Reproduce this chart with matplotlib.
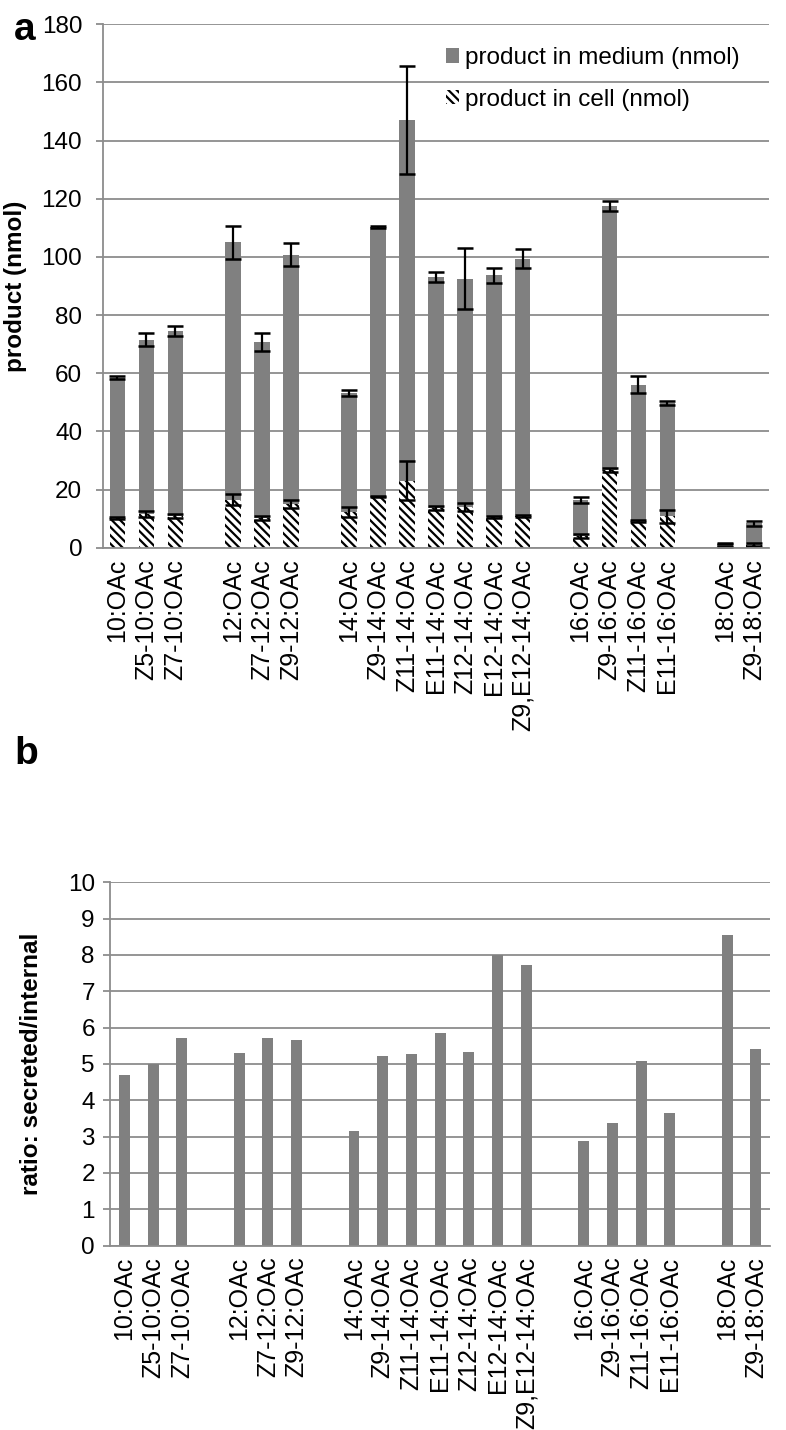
import numpy as np
import matplotlib
matplotlib.use("Agg")
import matplotlib.pyplot as plt
from matplotlib.patches import Patch

plt.rcParams['font.family'] = ['Liberation Sans', 'DejaVu Sans']
plt.rcParams['hatch.linewidth'] = 1.6

# 化合物名称（按碳链长度分组）
labels = ['10:OAc', 'Z5-10:OAc', 'Z7-10:OAc',
          '12:OAc', 'Z7-12:OAc', 'Z9-12:OAc',
          '14:OAc', 'Z9-14:OAc', 'Z11-14:OAc', 'E11-14:OAc', 'Z12-14:OAc', 'E12-14:OAc', 'Z9,E12-14:OAc',
          '16:OAc', 'Z9-16:OAc', 'Z11-16:OAc', 'E11-16:OAc',
          '18:OAc', 'Z9-18:OAc']
group_sizes = [3, 3, 7, 4, 2]

# a: 总产物（堆叠顶部）及细胞内产物
total = [58.5, 71.6, 74.5, 105.0, 70.8, 100.8, 53.3, 110.2, 147.0, 93.1, 92.5, 93.7, 99.4,
         16.3, 117.6, 56.0, 49.8, 1.4, 8.4]
total_err = [0.5, 2.1, 1.8, 5.6, 3.2, 4.0, 1.0, 0.3, 18.5, 1.7, 10.4, 2.5, 3.3,
             1.0, 1.7, 2.9, 0.7, 0.3, 0.8]
cell = [10.2, 11.6, 10.9, 16.5, 10.2, 15.0, 12.3, 17.6, 23.1, 13.6, 13.9, 10.5, 11.0,
        4.0, 26.8, 9.1, 10.8, 0.3, 1.0]
cell_err = [0.3, 1.1, 0.7, 1.8, 0.6, 1.5, 1.6, 0.3, 6.7, 0.7, 1.3, 0.4, 0.3,
            0.8, 0.6, 0.4, 2.2, 0.1, 0.5]

# b: 分泌/胞内比值
ratio = [4.7, 5.0, 5.72, 5.3, 5.72, 5.65, 3.15, 5.23, 5.27, 5.84, 5.34, 8.0, 7.72,
         2.88, 3.38, 5.08, 3.65, 8.55, 5.42]

# 每组之间空一个位置
pos = []
x = 0
for n in group_sizes:
    pos.extend(range(x, x + n))
    x += n + 1
pos = np.array(pos)
n_slots = x - 1

gray = '#808080'
grid_c = '#8c8c8c'

fig = plt.figure(figsize=(7.86, 14.30), dpi=100)
ax1 = fig.add_axes([0.131, 0.617, 0.847, 0.366])
ax2 = fig.add_axes([0.140, 0.129, 0.840, 0.254])


def style_axis(ax, ymax, step, ypad):
    ax.set_xlim(-0.5, n_slots - 0.5)
    ax.set_ylim(0, ymax)
    ax.set_yticks(np.arange(0, ymax + step / 2, step))
    ax.yaxis.grid(True, color=grid_c, linewidth=1.3)
    ax.set_axisbelow(True)
    for s in ['top', 'right']:
        ax.spines[s].set_visible(False)
    for s in ['left', 'bottom']:
        ax.spines[s].set_color(grid_c)
        ax.spines[s].set_linewidth(1.3)
    ax.tick_params(axis='y', length=5, color=grid_c, width=1.3, labelsize=17.5, pad=ypad)
    ax.tick_params(axis='x', length=0, labelsize=18, pad=8)
    ax.set_xticks(pos)
    ax.set_xticklabels(labels, rotation=90, ha='center', va='top')


# 面板 a
w1 = 0.54
medium = np.array(total) - np.array(cell)
ax1.bar(pos, cell, w1, color='white', edgecolor='black', hatch='\\\\\\\\', linewidth=0)
ax1.bar(pos, medium, w1, bottom=cell, color=gray, linewidth=0)
ax1.errorbar(pos, total, yerr=total_err, fmt='none', ecolor='black',
             elinewidth=1.6, capsize=6, capthick=1.8)
ax1.errorbar(pos, cell, yerr=cell_err, fmt='none', ecolor='black',
             elinewidth=1.6, capsize=6, capthick=1.8)
style_axis(ax1, 180, 20, 10)
ax1.set_ylabel('product (nmol)', fontsize=17.5, fontweight='bold', labelpad=10)

handles = [Patch(facecolor=gray, edgecolor='none', label='product in medium (nmol)'),
           Patch(facecolor='white', edgecolor='black', hatch='\\\\\\\\', linewidth=0,
                 label='product in cell (nmol)')]
ax1.legend(handles=handles, loc='upper left', bbox_to_anchor=(0.5, 0.975), frameon=False,
           fontsize=17.5, handlelength=0.55, handleheight=0.55, handletextpad=0.25,
           labelspacing=0.8, borderaxespad=0)

# 面板 b
w2 = 0.38
ax2.bar(pos, ratio, w2, color=gray, linewidth=0)
style_axis(ax2, 10, 1, 6)
ax2.set_ylabel('ratio: secreted/internal', fontsize=17.5, fontweight='bold', labelpad=18)

fig.text(0.018, 0.972, 'a', fontsize=28, fontweight='bold')
fig.text(0.018, 0.466, 'b', fontsize=28, fontweight='bold')

fig.savefig('out.png', dpi=100)
